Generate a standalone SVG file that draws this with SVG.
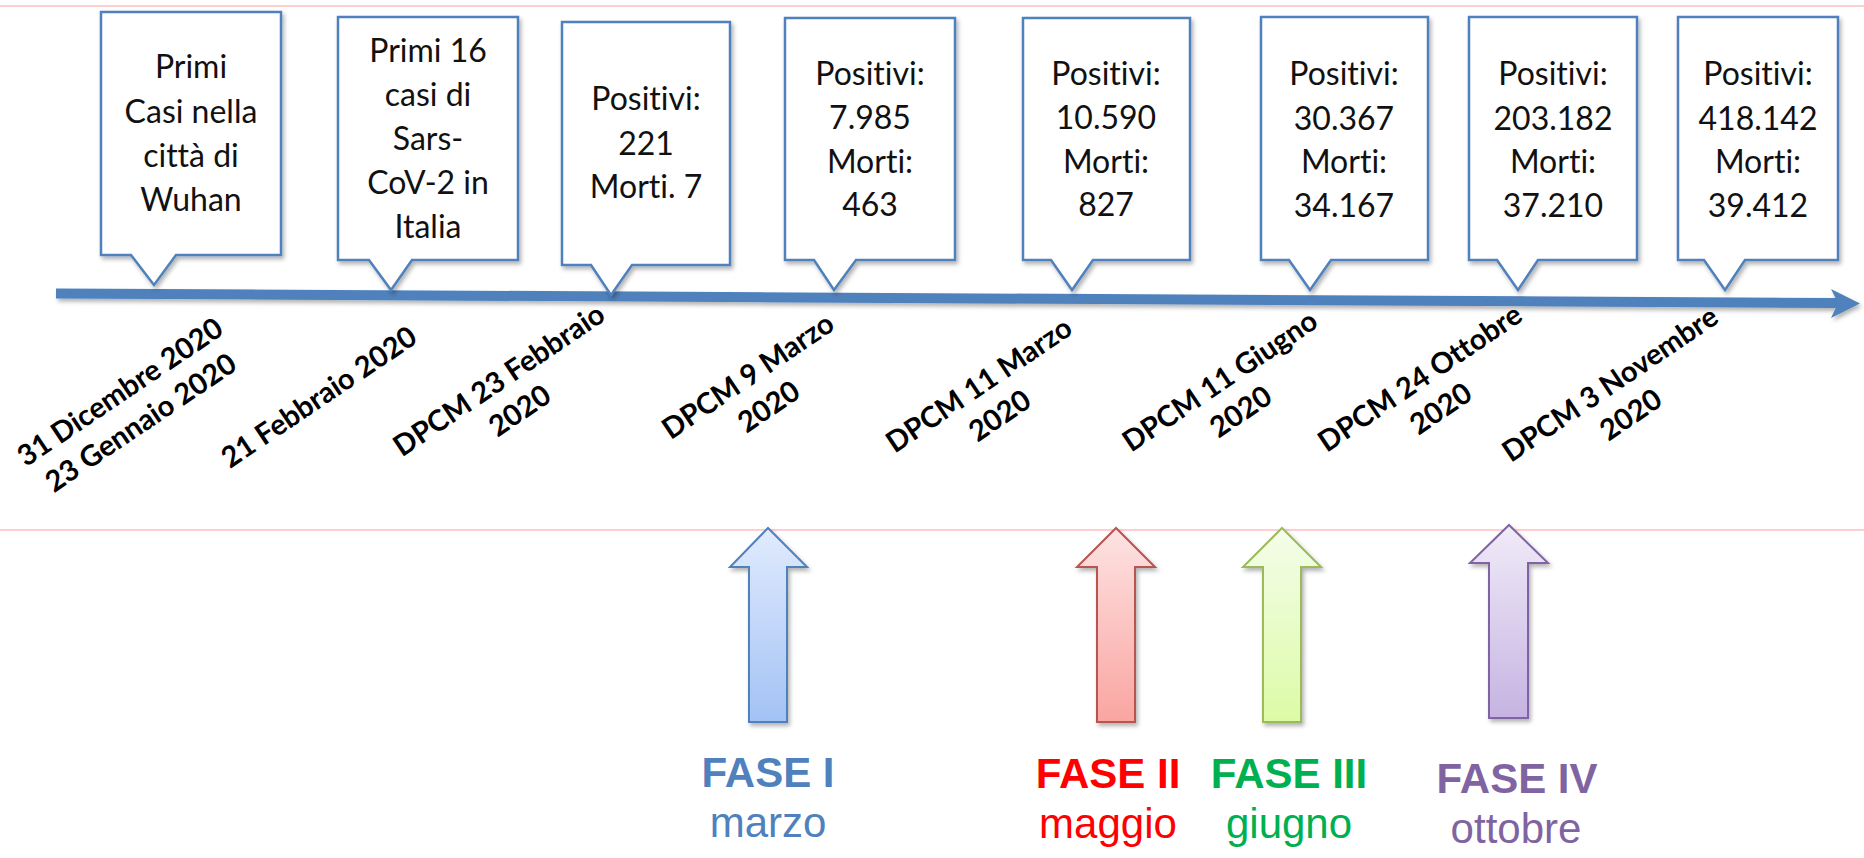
<svg xmlns="http://www.w3.org/2000/svg" width="1864" height="858" viewBox="0 0 1864 858">
<style>
.box{fill:#fff;stroke:#4F81BD;stroke-width:2.5;filter:url(#sh)}
.ct{font-family:Lato,"Liberation Sans",sans-serif;font-size:32px;fill:#111;text-anchor:middle;font-variant-ligatures:none}
.dt{font-family:Lato,"Liberation Sans",sans-serif;font-size:29px;font-weight:bold;fill:#000;text-anchor:middle;font-variant-ligatures:none}
.fh{font-family:"Liberation Sans",Arial,sans-serif;font-size:42px;font-weight:bold;text-anchor:middle}
.fm{font-family:"Liberation Sans",Arial,sans-serif;font-size:42px;text-anchor:middle}
.pink{stroke:#FFCFCF;stroke-width:2}
</style>
<defs>
<filter id="sh" x="-10%" y="-10%" width="130%" height="130%"><feDropShadow dx="2" dy="3" stdDeviation="2" flood-color="#000" flood-opacity="0.3"/></filter>
<linearGradient id="gb" x1="0" y1="0" x2="0" y2="1"><stop offset="0" stop-color="#E1EBFD"/><stop offset="1" stop-color="#A3C2F5"/></linearGradient>
<linearGradient id="gr" x1="0" y1="0" x2="0" y2="1"><stop offset="0" stop-color="#FDE3E3"/><stop offset="1" stop-color="#FAA5A1"/></linearGradient>
<linearGradient id="gg" x1="0" y1="0" x2="0" y2="1"><stop offset="0" stop-color="#F4FDEA"/><stop offset="1" stop-color="#DCFBA6"/></linearGradient>
<linearGradient id="gp" x1="0" y1="0" x2="0" y2="1"><stop offset="0" stop-color="#F0EBF8"/><stop offset="1" stop-color="#C6B3E2"/></linearGradient>
</defs>
<rect width="1864" height="858" fill="#fff"/>
<line class="pink" x1="0" y1="6" x2="1864" y2="6"/>
<line class="pink" x1="0" y1="530" x2="1864" y2="530"/>

<g id="connectors">
<g filter="url(#sh)">
<path d="M56,288.5 L1838,298 L1838,308 L56,298.5 Z" fill="#4F81BD"/>
<path d="M1831,289 L1860,303.5 L1831,318 L1838,303 Z" fill="#4F81BD"/>
</g>
</g>

<g id="callout1"><path class="box" d="M101,12 H281 V255 H176 L154,285 L131,255 H101 Z"/>
<text class="ct" x="191" y="78">Primi</text><text class="ct" x="191" y="123">Casi nella</text><text class="ct" x="191" y="167">città di</text><text class="ct" x="191" y="211">Wuhan</text></g>
<g id="callout2"><path class="box" d="M338,17 H518 V260 H412 L391,290 L369,260 H338 Z"/>
<text class="ct" x="428" y="62">Primi 16</text><text class="ct" x="428" y="106">casi di</text><text class="ct" x="428" y="150">Sars-</text><text class="ct" x="428" y="194">CoV-2 in</text><text class="ct" x="428" y="238">Italia</text></g>
<g id="callout3"><path class="box" d="M562,22 H730 V265 H632 L611,295 L591,265 H562 Z"/>
<text class="ct" x="646" y="110">Positivi:</text><text class="ct" x="646" y="155">221</text><text class="ct" x="646" y="198">Morti. 7</text></g>
<g id="callout4"><path class="box" d="M785,18 H955 V260 H856 L834,290 L814,260 H785 Z"/>
<text class="ct" x="870" y="85">Positivi:</text><text class="ct" x="870" y="129">7.985</text><text class="ct" x="870" y="173">Morti:</text><text class="ct" x="870" y="216">463</text></g>
<g id="callout5"><path class="box" d="M1023,18 H1190 V260 H1093 L1072,290 L1051,260 H1023 Z"/>
<text class="ct" x="1106" y="85">Positivi:</text><text class="ct" x="1106" y="129">10.590</text><text class="ct" x="1106" y="173">Morti:</text><text class="ct" x="1106" y="216">827</text></g>
<g id="callout6"><path class="box" d="M1261,17 H1428 V260 H1331 L1310,290 L1289,260 H1261 Z"/>
<text class="ct" x="1344" y="85">Positivi:</text><text class="ct" x="1344" y="130">30.367</text><text class="ct" x="1344" y="173">Morti:</text><text class="ct" x="1344" y="217">34.167</text></g>
<g id="callout7"><path class="box" d="M1469,17 H1637 V260 H1538 L1518,290 L1497,260 H1469 Z"/>
<text class="ct" x="1553" y="85">Positivi:</text><text class="ct" x="1553" y="130">203.182</text><text class="ct" x="1553" y="173">Morti:</text><text class="ct" x="1553" y="217">37.210</text></g>
<g id="callout8"><path class="box" d="M1678,17 H1838 V260 H1745 L1725,290 L1704,260 H1678 Z"/>
<text class="ct" x="1758" y="85">Positivi:</text><text class="ct" x="1758" y="130">418.142</text><text class="ct" x="1758" y="173">Morti:</text><text class="ct" x="1758" y="217">39.412</text></g>

<g id="date1" transform="translate(120,392) rotate(-34)"><text class="dt" x="0" y="10">31 Dicembre 2020</text><text class="dt" x="0" y="47">23 Gennaio 2020</text></g>
<g id="date2" transform="translate(319,397) rotate(-34)"><text class="dt" x="0" y="10">21 Febbraio 2020</text></g>
<g id="date3" transform="translate(499,380) rotate(-34)"><text class="dt" x="0" y="10">DPCM 23 Febbraio</text><text class="dt" x="0" y="47">2020</text></g>
<g id="date4" transform="translate(748,376) rotate(-34)"><text class="dt" x="0" y="10">DPCM 9 Marzo</text><text class="dt" x="0" y="47">2020</text></g>
<g id="date5" transform="translate(979,385) rotate(-34)"><text class="dt" x="0" y="10">DPCM 11 Marzo</text><text class="dt" x="0" y="47">2020</text></g>
<g id="date6" transform="translate(1220,381) rotate(-34)"><text class="dt" x="0" y="10">DPCM 11 Giugno</text><text class="dt" x="0" y="47">2020</text></g>
<g id="date7" transform="translate(1420,378) rotate(-34)"><text class="dt" x="0" y="10">DPCM 24 Ottobre</text><text class="dt" x="0" y="47">2020</text></g>
<g id="date8" transform="translate(1610,384) rotate(-34)"><text class="dt" x="0" y="10">DPCM 3 Novembre</text><text class="dt" x="0" y="47">2020</text></g>

<g id="fase1"><path d="M768,528 L807,567 H787 V722 H749 V567 H730 Z" fill="url(#gb)" stroke="#4F81BD" stroke-width="2" filter="url(#sh)"/>
<text class="fh" x="768" y="787" fill="#4F81BD">FASE I</text><text class="fm" x="768" y="837" fill="#4F81BD">marzo</text></g>
<g id="fase2"><path d="M1116,528 L1155,567 H1135 V722 H1097 V567 H1077 Z" fill="url(#gr)" stroke="#B85450" stroke-width="2" filter="url(#sh)"/>
<text class="fh" x="1108" y="788" fill="#FF0000">FASE II</text><text class="fm" x="1108" y="838" fill="#FF0000">maggio</text></g>
<g id="fase3"><path d="M1282,528 L1321,567 H1301 V722 H1263 V567 H1243 Z" fill="url(#gg)" stroke="#9BBB59" stroke-width="2" filter="url(#sh)"/>
<text class="fh" x="1289" y="788" fill="#00B050">FASE III</text><text class="fm" x="1289" y="838" fill="#00B050">giugno</text></g>
<g id="fase4"><path d="M1509,525 L1548,563 H1528 V718 H1489 V563 H1470 Z" fill="url(#gp)" stroke="#8064A2" stroke-width="2" filter="url(#sh)"/>
<text class="fh" x="1517" y="793" fill="#8064A2">FASE IV</text><text class="fm" x="1516" y="843" fill="#8064A2">ottobre</text></g>
</svg>
